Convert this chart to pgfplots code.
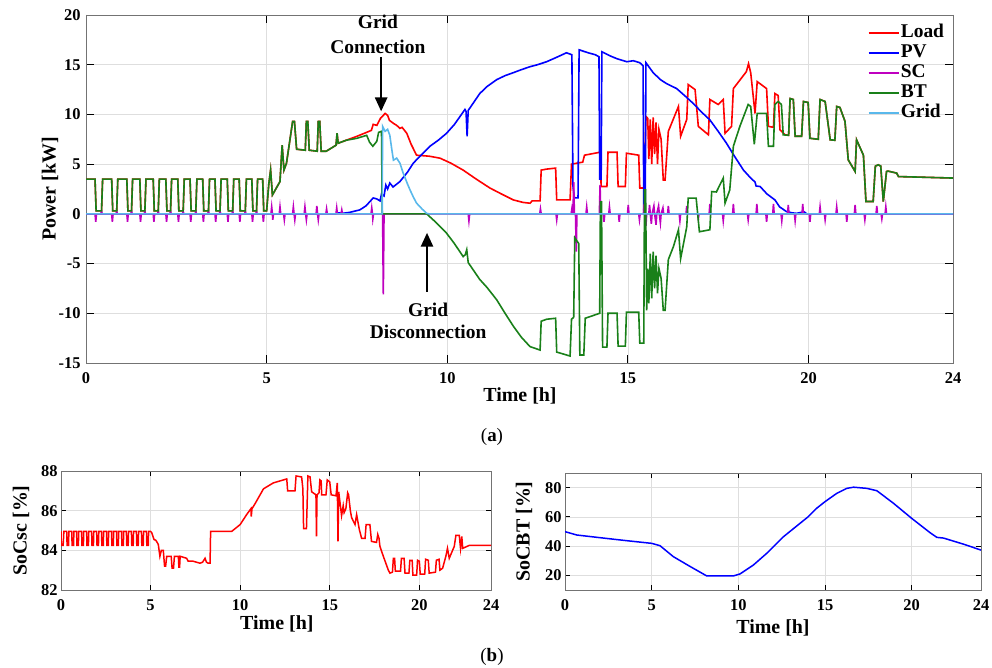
\documentclass[border=0pt]{standalone}
\usepackage{fontspec}
\setmainfont{Liberation Serif}
\usepackage{pgfplots}
\pgfplotsset{compat=1.18}
\usetikzlibrary{arrows.meta}
\definecolor{cLoad}{rgb}{1,0,0}
\definecolor{cPV}{rgb}{0,0,1}
\definecolor{cSC}{rgb}{0.75,0,0.75}
\definecolor{cBT}{rgb}{0.1,0.5,0.1}
\definecolor{cGrid}{rgb}{0.35,0.72,0.92}
\pgfplotsset{mystyle/.style={scale only axis, tick align=inside, xmin=0, xmax=24,
  xtick={0,5,10,15,20,24}, grid=major, major grid style={black!13, line width=0.6bp},
  axis line style={black!55, line width=0.8bp}, major tick style={black, line width=0.8bp},
  /pgf/number format/assume math mode=true,
  ticklabel style={font=\bfseries\fontsize{16.5}{17}\selectfont},
  label style={font=\bfseries\fontsize{20}{21}\selectfont},
  xticklabel style={yshift=-6bp}, xlabel={Time [h]}}}
\begin{document}
\begin{tikzpicture}
\useasboundingbox (0,0) rectangle (992bp,668bp);
\begin{axis}[mystyle, at={(86bp,305bp)}, anchor=south west, width=867bp, height=348bp,
  ymin=-15, ymax=20, ytick={-15,-10,-5,0,5,10,15,20}, major tick length=8bp,
  ylabel={Power [kW]},
  ylabel style={at={(axis description cs:-0.0415,0.5)}, anchor=center},
  xlabel style={at={(axis description cs:0.5006,-0.095)}, anchor=center},
  yticklabel style={xshift=-2bp},
  legend cell align=left,
  legend style={at={(axis description cs:0.898,0.984)}, anchor=north west, draw=none, fill=none,
    font=\bfseries\fontsize{19.5}{20}\selectfont, row sep=0bp,
    nodes={inner sep=1.5bp, text height=13bp, text depth=4bp}},
  legend image code/.code={\draw[#1, line width=1.6bp] (0bp,0bp) -- (30bp,0bp);},
  every axis plot/.append style={line width=1.6bp}]
% Load
\addplot[cLoad] coordinates {(0,3.5)(0.25,3.5)(0.28,0.3)(0.43,0.3)(0.46,3.5)(0.71,3.5)(0.74,0.3)(0.85,0.3)(0.88,3.5)(1.13,3.5)(1.16,0.3)(1.26,0.3)(1.29,3.5)(1.49,3.5)(1.52,0.3)(1.63,0.3)(1.66,3.5)(1.86,3.5)(1.89,0.3)(2.00,0.3)(2.03,3.5)(2.21,3.5)(2.24,0.3)(2.34,0.3)(2.37,3.5)(2.54,3.5)(2.57,0.3)(2.69,0.3)(2.72,3.5)(2.88,3.5)(2.91,0.3)(3.04,0.3)(3.07,3.5)(3.23,3.5)(3.26,0.3)(3.39,0.3)(3.42,3.5)(3.57,3.5)(3.60,0.3)(3.71,0.3)(3.74,3.5)(3.91,3.5)(3.94,0.3)(4.06,0.3)(4.09,3.5)(4.24,3.5)(4.27,0.3)(4.41,0.3)(4.44,3.5)(4.59,3.5)(4.62,0.3)(4.72,0.3)(4.75,3.5)(4.89,3.5)(4.92,0.3)(5.0,0.3)
(5.06,3.0)(5.11,4.4)(5.16,1.9)(5.37,3.25)(5.43,6.9)(5.48,4.4)(5.55,5.1)(5.72,9.3)(5.77,9.3)(5.83,6.5)(6.07,6.4)(6.10,9.3)(6.14,9.3)(6.18,6.4)(6.40,6.3)(6.43,9.3)(6.47,9.3)(6.51,6.3)(6.65,6.3)(6.92,6.9)(6.95,8.1)(6.98,7.1)(7.2,7.4)
(7.5,7.8)(7.77,8.2)(7.9,8.4)(7.95,9.0)(8.05,8.9)(8.15,9.6)(8.28,10.1)(8.35,9.9)(8.4,9.4)(8.51,9.1)(8.6,8.9)(8.69,8.6)(8.75,8.7)(8.88,8.1)(9.0,7.0)(9.15,5.9)(9.5,5.8)(9.8,5.6)(10.1,5.1)(10.44,4.4)(10.8,3.5)(11.18,2.6)(11.5,2.0)(11.83,1.4)(12.1,1.15)(12.29,1.07)(12.35,1.3)(12.57,1.3)(12.6,4.4)(12.75,4.5)(13.0,4.6)(13.03,1.4)(13.4,1.4)(13.44,5.0)(13.75,5.2)(13.8,5.9)(14.23,6.2)(14.26,2.75)(14.42,2.75)(14.45,6.2)(14.7,6.2)(14.73,2.75)(14.93,2.75)(14.96,6.1)(15.3,5.9)(15.33,2.6)(15.45,2.6)(15.5,9.8)(15.55,9.6)(15.58,5.5)(15.62,9.5)(15.66,5.0)(15.7,9.7)(15.74,6.0)(15.78,9.2)(15.82,5.0)(15.86,8.5)(15.92,7.5)(15.98,3.4)(16.03,3.4)(16.12,8.3)(16.4,10.8)(16.46,7.8)(16.63,9.5)(16.67,13.0)(16.86,12.5)(16.95,8.8)(17.23,7.95)(17.27,11.5)(17.5,11.0)(17.64,11.5)(17.69,8.1)(17.87,8.8)(17.92,12.6)(18.28,14.3)(18.34,15.1)(18.4,14.2)(18.52,10.1)(18.58,13.3)(18.84,12.6)(18.89,8.8)(19.03,8.7)(19.07,12.1)(19.16,11.9)(19.21,8.45)(19.35,7.95)(19.45,7.9)(19.49,11.6)(19.58,11.5)(19.63,7.8)(19.81,7.8)(19.86,11.3)(19.99,11.2)(20.04,7.6)(20.27,7.5)(20.32,11.5)(20.46,11.3)(20.6,7.45)(20.73,7.4)(20.78,10.8)(20.87,10.7)(21.01,9.3)(21.1,5.43)(21.29,4.26)(21.33,7.45)(21.52,5.9)(21.59,1.24)(21.79,1.24)(21.85,4.8)(21.93,4.93)(22.0,4.8)(22.07,1.24)(22.16,4.26)(22.2,4.3)(22.44,4.1)(22.49,3.75)(23.0,3.7)(23.5,3.65)(24,3.6)};
\addlegendentry{Load}
% PV
\addplot[cPV] coordinates {(0,0)(6.9,0)(7.0,0.1)(7.1,0.05)(7.3,0.15)(7.58,0.4)(7.75,0.8)(7.95,1.6)(8.05,1.5)(8.14,1.3)(8.18,2.0)(8.25,1.8)(8.3,2.9)(8.35,2.5)(8.41,3.1)(8.5,2.7)(8.69,3.25)(8.9,4.2)(9.06,5.1)(9.3,6.0)(9.52,6.8)(9.75,7.4)(9.98,8.1)(10.2,9.0)(10.49,10.5)(10.52,10.3)(10.55,7.8)(10.58,10.4)(10.9,12.1)(11.1,12.8)(11.37,13.5)(11.6,13.9)(11.83,14.2)(12.05,14.5)(12.29,14.8)(12.5,15.0)(12.75,15.3)(13.0,15.7)(13.3,16.2)(13.45,16.0)(13.48,2.8)(13.52,1.6)(13.62,1.6)(13.65,16.5)(13.9,16.2)(14.1,16.0)(14.2,15.8)(14.22,3.5)(14.26,3.5)(14.28,16.3)(14.5,15.9)(14.7,15.6)(14.97,15.3)(15.15,15.4)(15.33,15.2)(15.42,14.9)(15.44,0.4)(15.48,0.4)(15.5,15.2)(15.6,14.7)(15.7,14.2)(15.9,13.5)(16.07,13.1)(16.35,12.6)(16.6,11.8)(16.81,11.1)(17.05,10.2)(17.27,9.45)(17.5,8.3)(17.73,7.1)(17.95,5.8)(18.2,4.4)(18.4,3.6)(18.52,3.2)(18.55,2.8)(18.66,2.75)(18.85,2.0)(19.07,1.4)(19.2,0.7)(19.39,0.23)(19.55,0.1)(19.67,0.05)(19.8,0.15)(19.88,0.2)(19.95,0.0)(24,0)};
\addlegendentry{PV}
% SC
\addplot[cSC] coordinates {(0,0)(0.25,0)(0.27,-0.8)(0.29,0)(0.41,0)(0.43,0.25)(0.45,0)(0.71,0)(0.73,-0.8)(0.75,0)(0.83,0)(0.85,0.25)(0.87,0)(1.13,0)(1.15,-0.8)(1.17,0)(1.24,0)(1.26,0.25)(1.28,0)(1.49,0)(1.51,-0.8)(1.53,0)(1.61,0)(1.63,0.25)(1.65,0)(1.86,0)(1.88,-0.8)(1.90,0)(1.98,0)(2.00,0.25)(2.02,0)(2.21,0)(2.23,-0.8)(2.25,0)(2.32,0)(2.34,0.25)(2.36,0)(2.54,0)(2.56,-0.8)(2.58,0)(2.67,0)(2.69,0.25)(2.71,0)(2.88,0)(2.90,-0.8)(2.92,0)(3.02,0)(3.04,0.25)(3.06,0)(3.23,0)(3.25,-0.8)(3.27,0)(3.37,0)(3.39,0.25)(3.41,0)(3.57,0)(3.59,-0.8)(3.61,0)(3.69,0)(3.71,0.25)(3.73,0)(3.91,0)(3.93,-0.8)(3.95,0)(4.04,0)(4.06,0.25)(4.08,0)(4.24,0)(4.26,-0.8)(4.28,0)(4.39,0)(4.41,0.25)(4.43,0)(4.59,0)(4.61,-0.8)(4.63,0)(4.70,0)(4.72,0.25)(4.74,0)(4.89,0)(4.91,-0.8)(4.93,0)
(5.12,0)(5.14,0.7)(5.16,0)(5.17,-0.6)(5.19,0)(5.35,0)(5.37,0.7)(5.39,0)(5.47,0)(5.49,-0.6)(5.51,0)(5.72,0)(5.74,0.7)(5.76,0)(5.78,-0.6)(5.80,0)(6.04,0)(6.06,0.7)(6.08,0)(6.10,-0.6)(6.12,0)(6.37,0)(6.39,0.8)(6.41,0)(6.43,-0.6)(6.45,0)(6.64,0)(6.66,0.5)(6.68,0)(6.92,0)(6.94,0.6)(6.96,0)(7.06,0)(7.08,0.4)(7.10,0)(7.89,0)(7.91,0.6)(7.93,0)(7.94,-0.5)(7.96,0)(8.21,0)(8.23,-8.1)(8.25,0)
(10.58,0)(10.6,-0.7)(10.62,0)(12.56,0)(12.58,0.5)(12.60,0)(13.01,0)(13.03,-0.6)(13.05,0)(13.43,0)(13.45,0.5)(13.47,0)(13.48,0)(13.5,3.2)(13.52,0)(13.55,0)(13.57,-3.8)(13.59,0)(13.84,0)(13.86,0.7)(13.88,0)(14.21,0)(14.23,2.9)(14.25,0)(14.32,0)(14.34,-0.8)(14.36,0)(14.47,0)(14.49,0.7)(14.51,0)(14.74,0)(14.76,-0.8)(14.78,0)(14.99,0)(15.01,0.9)(15.03,0)(15.30,0)(15.32,-0.6)(15.34,0)(15.43,0)(15.45,1.0)(15.47,0)(15.5,-1.2)(15.52,0)(15.58,0)(15.6,0.9)(15.62,0)(15.65,-1.0)(15.67,0)(15.72,0.8)(15.74,0)(15.78,-1.1)(15.80,0)(15.85,0.8)(15.87,0)(15.9,-0.9)(15.92,0)(15.97,0.6)(15.99,0)(16.10,0)(16.12,0.8)(16.14,0)(16.42,0)(16.44,-0.7)(16.46,0)(16.61,0)(16.63,0.8)(16.65,0)(16.93,0)(16.95,-0.5)(16.97,0)(17.25,0)(17.27,1.0)(17.29,0)(17.62,0)(17.64,-0.7)(17.66,0)(17.90,0)(17.92,1.0)(17.94,0)(18.31,0)(18.33,-0.6)(18.35,0)(18.55,0)(18.57,1.0)(18.59,0)(18.82,0)(18.84,-0.8)(18.86,0)(19.01,0)(19.03,1.0)(19.05,0)(19.24,0)(19.26,-0.7)(19.28,0)(19.42,0)(19.44,0.9)(19.46,0)(19.61,0)(19.63,-0.7)(19.65,0)(19.82,0)(19.84,1.0)(19.86,0)(20.02,0)(20.04,-0.8)(20.06,0)(20.30,0)(20.32,0.7)(20.34,0)(20.44,0)(20.46,-0.6)(20.48,0)(20.76,0)(20.78,0.7)(20.80,0)(21.04,0)(21.06,-0.8)(21.08,0)(21.27,0)(21.29,0.9)(21.31,0)(21.54,0)(21.56,-0.6)(21.58,0)(21.87,0)(21.89,0.8)(21.91,0)(22.01,0)(22.03,-0.5)(22.05,0)(22.12,0)(22.14,0.7)(22.16,0)(24,0)};
\addlegendentry{SC}
% BT
\addplot[cBT] coordinates {(0,3.5)(0.25,3.5)(0.28,0.3)(0.43,0.3)(0.46,3.5)(0.71,3.5)(0.74,0.3)(0.85,0.3)(0.88,3.5)(1.13,3.5)(1.16,0.3)(1.26,0.3)(1.29,3.5)(1.49,3.5)(1.52,0.3)(1.63,0.3)(1.66,3.5)(1.86,3.5)(1.89,0.3)(2.00,0.3)(2.03,3.5)(2.21,3.5)(2.24,0.3)(2.34,0.3)(2.37,3.5)(2.54,3.5)(2.57,0.3)(2.69,0.3)(2.72,3.5)(2.88,3.5)(2.91,0.3)(3.04,0.3)(3.07,3.5)(3.23,3.5)(3.26,0.3)(3.39,0.3)(3.42,3.5)(3.57,3.5)(3.60,0.3)(3.71,0.3)(3.74,3.5)(3.91,3.5)(3.94,0.3)(4.06,0.3)(4.09,3.5)(4.24,3.5)(4.27,0.3)(4.41,0.3)(4.44,3.5)(4.59,3.5)(4.62,0.3)(4.72,0.3)(4.75,3.5)(4.89,3.5)(4.92,0.3)(5.0,0.3)
(5.06,3.0)(5.11,4.4)(5.16,1.9)(5.37,3.25)(5.43,6.9)(5.48,4.4)(5.55,5.1)(5.72,9.3)(5.77,9.3)(5.83,6.5)(6.07,6.4)(6.10,9.3)(6.14,9.3)(6.18,6.4)(6.40,6.3)(6.43,9.3)(6.47,9.3)(6.51,6.3)(6.65,6.3)(6.92,6.9)(6.95,8.1)(6.98,7.1)(7.2,7.4)
(7.5,7.6)(7.77,7.9)(7.85,7.2)(7.94,6.8)(8.05,7.3)(8.1,8.2)(8.18,8.3)(8.2,0)(9.43,0)(9.7,-0.9)(9.98,-1.94)(10.2,-3.0)(10.44,-4.3)(10.5,-4.1)(10.54,-3.6)(10.58,-4.9)(10.9,-6.6)(11.1,-7.4)(11.37,-8.65)(11.6,-10.0)(11.83,-11.3)(12.05,-12.4)(12.29,-13.35)(12.57,-13.7)(12.6,-10.8)(12.75,-10.6)(13.0,-10.5)(13.03,-13.9)(13.4,-14.3)(13.44,-10.6)(13.5,-10.4)(13.53,-2.4)(13.64,-3.0)(13.67,-14.2)(13.78,-14.2)(13.82,-10.5)(14.22,-10.0)(14.24,1.2)(14.27,1.2)(14.3,-13.4)(14.42,-13.4)(14.45,-10.0)(14.7,-10.0)(14.73,-13.3)(14.93,-13.3)(14.96,-9.9)(15.3,-9.9)(15.33,-13.0)(15.44,-13.0)(15.46,2.4)(15.49,2.4)(15.52,-9.7)(15.55,-5.5)(15.58,-9.0)(15.62,-4.0)(15.66,-8.5)(15.7,-3.8)(15.74,-7.5)(15.78,-4.2)(15.82,-8.0)(15.86,-5.5)(15.92,-6.5)(15.98,-9.7)(16.03,-9.7)(16.12,-4.6)(16.26,-3.3)(16.4,-1.6)(16.46,-4.5)(16.63,-1.3)(16.67,1.58)(16.89,1.58)(16.98,-1.8)(17.27,-1.6)(17.32,2.24)(17.45,2.2)(17.64,3.6)(17.69,1.08)(17.82,2.4)(17.92,6.8)(18.1,8.8)(18.33,11.0)(18.4,10.8)(18.5,7.0)(18.58,10.1)(18.84,10.1)(18.89,6.8)(19.03,6.8)(19.07,11.0)(19.16,11.3)(19.25,11.0)(19.30,7.95)(19.45,7.9)(19.49,11.6)(19.58,11.5)(19.63,7.8)(19.81,7.8)(19.86,11.3)(19.99,11.2)(20.04,7.6)(20.27,7.5)(20.32,11.5)(20.46,11.3)(20.6,7.45)(20.73,7.4)(20.78,10.8)(20.87,10.7)(21.01,9.3)(21.1,5.43)(21.29,4.26)(21.33,7.45)(21.52,5.9)(21.59,1.24)(21.79,1.24)(21.85,4.8)(21.93,4.93)(22.0,4.8)(22.07,1.24)(22.16,4.26)(22.2,4.3)(22.44,4.1)(22.49,3.75)(23.0,3.7)(23.5,3.65)(24,3.6)};
\addlegendentry{BT}
% Grid
\addplot[cGrid] coordinates {(0,0)(8.2,0)(8.21,8.8)(8.28,8.3)(8.35,8.5)(8.41,7.9)(8.46,6.6)(8.51,5.4)(8.6,5.6)(8.69,5.1)(8.78,4.1)(8.9,3.0)(8.97,2.4)(9.06,1.7)(9.15,1.08)(9.3,0.5)(9.43,0.05)(9.5,0)(24,0)};
\addlegendentry{Grid}
\draw[-{Triangle[length=14bp,width=12bp]}, line width=2.6bp] (axis cs:8.17,15.8) -- (axis cs:8.17,10.3);
\draw[-{Triangle[length=14bp,width=12bp]}, line width=2.6bp] (axis cs:9.44,-7.85) -- (axis cs:9.44,-1.9);
\node[font=\bfseries\fontsize{19.5}{25}\selectfont, align=center] at (axis cs:8.08,18.05) {Grid\\Connection};
\node[font=\bfseries\fontsize{19.5}{22}\selectfont, align=center] at (axis cs:9.47,-10.8) {Grid\\Disconnection};
\end{axis}
\node[font=\fontsize{19}{20}\selectfont] at (492bp,231bp) {(\textbf{a})};
% SoCsc
\begin{axis}[mystyle, at={(61bp,78bp)}, anchor=south west, width=430bp, height=119bp,
  ymin=82, ymax=88, ytick={82,84,86,88}, major tick length=5bp,
  ylabel={SoCsc [\%]},
  ylabel style={at={(axis description cs:-0.093,0.5)}, anchor=center},
  xlabel style={at={(axis description cs:0.502,-0.286)}, anchor=center}]
\addplot[cLoad, line width=1.5bp] coordinates {(0,84.95)(0.02,84.25)(0.12,84.25)(0.16,84.95)(0.32,84.95)(0.34,84.25)(0.42,84.25)(0.44,84.95)(0.60,84.95)(0.62,84.25)(0.70,84.25)(0.72,84.95)(0.87,84.95)(0.89,84.25)(0.97,84.25)(0.99,84.95)(1.15,84.95)(1.17,84.25)(1.25,84.25)(1.27,84.95)(1.43,84.95)(1.45,84.25)(1.53,84.25)(1.55,84.95)(1.71,84.95)(1.73,84.25)(1.81,84.25)(1.83,84.95)(1.99,84.95)(2.01,84.25)(2.09,84.25)(2.11,84.95)(2.26,84.95)(2.28,84.25)(2.36,84.25)(2.38,84.95)(2.54,84.95)(2.56,84.25)(2.64,84.25)(2.66,84.95)(2.82,84.95)(2.84,84.25)(2.92,84.25)(2.94,84.95)(3.10,84.95)(3.12,84.25)(3.20,84.25)(3.22,84.95)(3.38,84.95)(3.40,84.25)(3.48,84.25)(3.50,84.95)(3.65,84.95)(3.67,84.25)(3.75,84.25)(3.77,84.95)(3.93,84.95)(3.95,84.25)(4.03,84.25)(4.05,84.95)(4.21,84.95)(4.23,84.25)(4.31,84.25)(4.33,84.95)(4.49,84.95)(4.51,84.25)(4.59,84.25)(4.61,84.95)(4.77,84.95)(4.79,84.25)(4.87,84.25)(4.89,84.95)
(5.0,84.95)(5.06,84.9)(5.19,84.55)(5.3,84.5)(5.43,84.3)(5.52,83.7)(5.6,84.0)(5.71,84.0)(5.78,83.2)(5.84,83.2)(5.9,83.7)(6.15,83.7)(6.2,83.1)(6.28,83.1)(6.33,83.7)(6.55,83.7)(6.58,83.15)(6.62,83.15)(6.65,83.7)(7.01,83.6)(7.1,83.45)(7.38,83.45)(7.76,83.35)(7.9,83.4)(8.04,83.6)(8.12,83.4)(8.22,83.35)(8.32,83.35)(8.35,84.95)(9.52,84.95)(10.0,85.3)(10.36,85.8)(10.6,86.1)(10.62,85.7)(10.66,86.1)(10.83,86.35)(11.3,87.1)(11.85,87.4)(12.6,87.6)(12.65,87.0)(13.06,87.0)(13.12,87.75)(13.43,87.7)(13.5,87.1)(13.54,85.1)(13.7,85.1)(13.78,87.75)(13.9,87.7)(13.99,86.95)(14.23,86.8)(14.26,84.7)(14.29,86.8)(14.4,86.9)(14.45,87.55)(14.52,87.5)(14.55,86.8)(14.79,86.8)(14.86,87.55)(15.0,87.45)(15.08,86.8)(15.35,86.75)(15.42,87.4)(15.46,84.45)(15.5,86.95)(15.6,86.2)(15.66,85.75)(15.75,86.25)(15.8,85.9)(15.9,86.1)(16.0,86.9)(16.05,86.8)(16.15,86.0)(16.22,85.65)(16.41,85.3)(16.5,85.8)(16.65,85.05)(16.78,84.6)(16.97,84.6)(17.03,85.3)(17.24,85.3)(17.33,84.45)(17.61,84.4)(17.68,84.8)(17.75,84.6)(17.8,84.2)(17.99,83.7)(18.15,83.3)(18.27,83.0)(18.36,82.85)(18.5,82.9)(18.55,83.6)(18.62,83.6)(18.66,82.95)(18.95,82.95)(19.0,83.6)(19.15,83.6)(19.2,82.85)(19.42,82.85)(19.47,83.5)(19.6,83.5)(19.64,82.75)(19.85,82.75)(19.9,83.5)(20.0,83.45)(20.05,82.8)(20.3,82.8)(20.35,83.55)(20.5,83.5)(20.55,82.85)(20.9,82.9)(20.95,83.5)(21.1,83.55)(21.15,83.0)(21.3,83.1)(21.48,83.7)(21.57,84.1)(21.67,83.6)(21.95,84.2)(22.04,84.75)(22.23,84.75)(22.3,84.1)(22.37,84.7)(22.42,84.1)(22.79,84.25)(24,84.25)};
\end{axis}
% SoCBT
\begin{axis}[mystyle, at={(565bp,78bp)}, anchor=south west, width=416bp, height=117bp,
  ymin=10, ymax=90, ytick={20,40,60,80}, major tick length=5bp,
  ylabel={SoCBT [\%]},
  ylabel style={at={(axis description cs:-0.0986,0.5)}, anchor=center},
  xlabel style={at={(axis description cs:0.5,-0.32)}, anchor=center}]
\addplot[cPV, line width=1.5bp] coordinates {(0,49.9)(0.68,47.6)(2,45.8)(3.5,43.8)(5.0,41.9)(5.48,40.3)(6.25,32.8)(7.2,26.2)(8.18,19.6)(9.71,19.6)(10.1,21.0)(10.87,27.1)(11.64,35.1)(12.6,46.4)(13.56,55.6)(14.0,59.8)(14.52,65.9)(15.0,70.4)(15.68,76.1)(16.26,79.5)(16.65,80.3)(17.41,79.5)(17.99,77.9)(18.95,69.3)(20.0,59.0)(21.06,49.2)(21.45,46.0)(21.84,45.5)(23.0,41.3)(24,37.3)};
\end{axis}
\node[font=\fontsize{19}{20}\selectfont] at (492bp,11bp) {(\textbf{b})};
\end{tikzpicture}
\end{document}
